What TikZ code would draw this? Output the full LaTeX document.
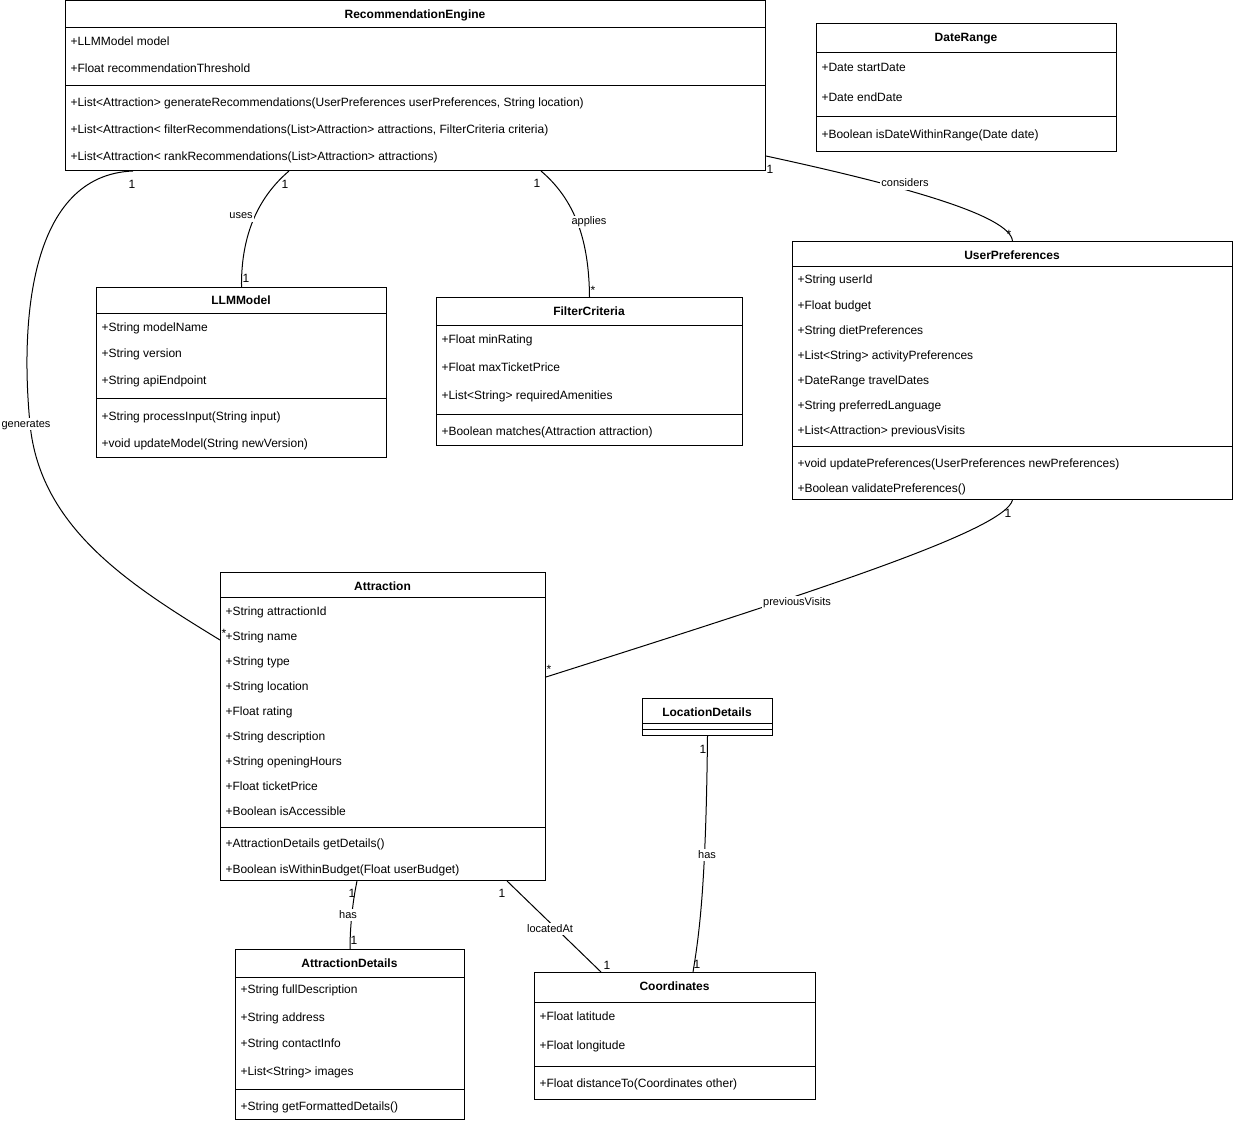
\documentclass[tikz,border=0pt]{standalone}
\usepackage{fontspec}
\setmainfont{Liberation Sans}
\usetikzlibrary{positioning}

\begin{document}
\begin{tikzpicture}[x=1pt,y=-1pt,line width=1pt,
  classbox/.style={draw,anchor=north west,inner sep=0pt},
  title/.style={font=\fontsize{12}{14}\selectfont\bfseries,inner sep=0pt,anchor=base,yshift=-4.3pt},
  member/.style={font=\fontsize{12}{14}\selectfont,inner sep=0pt,anchor=base west,yshift=-4.3pt},
  edgelabel/.style={font=\fontsize{11}{13}\selectfont,fill=white,inner sep=1pt,text height=8pt,text depth=2pt},
  mult/.style={font=\fontsize{12}{14}\selectfont,inner sep=0pt,text height=8.6pt,text depth=0pt}]

\useasboundingbox (0,0) rectangle (1234,1123);

% RecommendationEngine
\node[classbox,minimum width=700pt,minimum height=170pt] (engine) at (65,0) {};
\node[title] (engine-t) at (415,14) {RecommendationEngine};
\draw (65,28) -- (765,28) (65,86) -- (765,86);
\foreach \y/\t [count=\i] in {41/+LLMModel model,68/+Float recommendationThreshold,
    102/{+List<Attraction> generateRecommendations(UserPreferences userPreferences, String location)},
    129/{+List<Attraction< filterRecommendations(List>Attraction> attractions, FilterCriteria criteria)},
    156/+List<Attraction< rankRecommendations(List>Attraction> attractions)}
  \node[member] (engine-\i) at (70,\y) {\t};

% DateRange
\node[classbox,minimum width=300pt,minimum height=128pt] (range) at (816,23) {};
\node[title] (range-t) at (966,37) {DateRange};
\draw (816,53) -- (1116,53) (816,117) -- (1116,117);
\foreach \y/\t [count=\i] in {67/+Date startDate,97/+Date endDate,134/+Boolean isDateWithinRange(Date date)}
  \node[member] (range-\i) at (821,\y) {\t};

% LLMModel
\node[classbox,minimum width=290pt,minimum height=170pt] (llm) at (96,287) {};
\node[title] (llm-t) at (241,300) {LLMModel};
\draw (96,314) -- (386,314) (96,398) -- (386,398);
\foreach \y/\t [count=\i] in {327/+String modelName,353/+String version,380/+String apiEndpoint,
    416/+String processInput(String input),443/+void updateModel(String newVersion)}
  \node[member] (llm-\i) at (101,\y) {\t};

% FilterCriteria
\node[classbox,minimum width=306pt,minimum height=148pt] (filter) at (436,297) {};
\node[title] (filter-t) at (589,311) {FilterCriteria};
\draw (436,325) -- (742,325) (436,414) -- (742,414);
\foreach \y/\t [count=\i] in {339/+Float minRating,367/+Float maxTicketPrice,395/+List<String> requiredAmenities,
    431/+Boolean matches(Attraction attraction)}
  \node[member] (filter-\i) at (441,\y) {\t};

% UserPreferences
\node[classbox,minimum width=440pt,minimum height=258pt] (prefs) at (792,241) {};
\node[title] (prefs-t) at (1012,255) {UserPreferences};
\draw (792,267) -- (1232,267) (792,446) -- (1232,446);
\foreach \y/\t [count=\i] in {279/+String userId,305/+Float budget,330/+String dietPreferences,
    355/+List<String> activityPreferences,380/+DateRange travelDates,405/+String preferredLanguage,
    430/+List<Attraction> previousVisits,463/+void updatePreferences(UserPreferences newPreferences),
    488/+Boolean validatePreferences()}
  \node[member] (prefs-\i) at (797,\y) {\t};

% Attraction
\node[classbox,minimum width=325pt,minimum height=308pt] (attraction) at (220,572) {};
\node[title] (attraction-t) at (382.5,586) {Attraction};
\draw (220,597) -- (545,597) (220,827) -- (545,827);
\foreach \y/\t [count=\i] in {611/+String attractionId,636/+String name,661/+String type,686/+String location,
    711/+Float rating,736/+String description,761/+String openingHours,786/+Float ticketPrice,
    811/+Boolean isAccessible,843/+AttractionDetails getDetails(),869/+Boolean isWithinBudget(Float userBudget)}
  \node[member] (attraction-\i) at (225,\y) {\t};

% LocationDetails
\node[classbox,minimum width=130pt,minimum height=37pt] (location) at (642,698) {};
\node[title] (location-t) at (707,712) {LocationDetails};
\draw (642,723) -- (772,723) (642,729) -- (772,729);

% AttractionDetails
\node[classbox,minimum width=229pt,minimum height=170pt] (details) at (235,949) {};
\node[title] (details-t) at (349.5,963) {AttractionDetails};
\draw (235,977) -- (464,977) (235,1089) -- (464,1089);
\foreach \y/\t [count=\i] in {989/+String fullDescription,1017/+String address,1043/+String contactInfo,
    1071/+List<String> images,1106/+String getFormattedDetails()}
  \node[member] (details-\i) at (240,\y) {\t};

% Coordinates
\node[classbox,minimum width=281pt,minimum height=127pt] (coords) at (534,972) {};
\node[title] (coords-t) at (674.5,986) {Coordinates};
\draw (534,1002) -- (815,1002) (534,1066) -- (815,1066);
\foreach \y/\t [count=\i] in {1016/+Float latitude,1045/+Float longitude,1083/+Float distanceTo(Coordinates other)}
  \node[member] (coords-\i) at (539,\y) {\t};

% associations
\draw ([xshift=68pt]engine.south west) .. controls (30,175) and (20,320) .. (30,424)
    .. controls (40,528) and (130,585) .. ([yshift=-68pt]attraction.north west);
\draw ([xshift=224pt]engine.south west) .. controls (255,200) and (241,240) .. (llm.north);
\draw ([xshift=476pt]engine.south west) .. controls (575,200) and (589,240) .. (filter.north);
\draw ([yshift=15pt]engine.south east) .. controls (900,185) and (1010,215) .. (prefs.north);
\draw (prefs.south) .. controls (1005,530) and (820,590) .. ([yshift=-105pt]attraction.north east);
\draw ([xshift=137pt]attraction.south west) .. controls (353,900) and (350,925) .. (details.north);
\draw ([xshift=287pt]attraction.south west) -- ([xshift=67pt]coords.north west);
\draw (location.south) .. controls (706,880) and (700,930) .. ([xshift=159pt]coords.north west);

\node[edgelabel] (generates) at (26,424) {generates};
\node[edgelabel] (uses) at (241,216) {uses};
\node[edgelabel] (applies) at (589,222) {applies};
\node[edgelabel] (considers) at (905,184) {considers};
\node[edgelabel] (visits) at (797,602) {previousVisits};
\node[edgelabel] (has-details) at (348,915) {has};
\node[edgelabel] (located) at (550,929) {locatedAt};
\node[edgelabel] (has-coords) at (707,855) {has};

% multiplicities
\foreach \x/\y/\m [count=\i] in {132/184/1,285/184/1,246/278/1,537/183/1,770/169/1,1008/513/1,
    352/893/1,354/940/1,502/893/1,607/965/1,703/749/1,697/964/1,
    224/633/*,593/290/*,1009/234/*,549/669/*}
  \node[mult] (m-\i) at (\x,\y) {\m};

\end{tikzpicture}
\end{document}
